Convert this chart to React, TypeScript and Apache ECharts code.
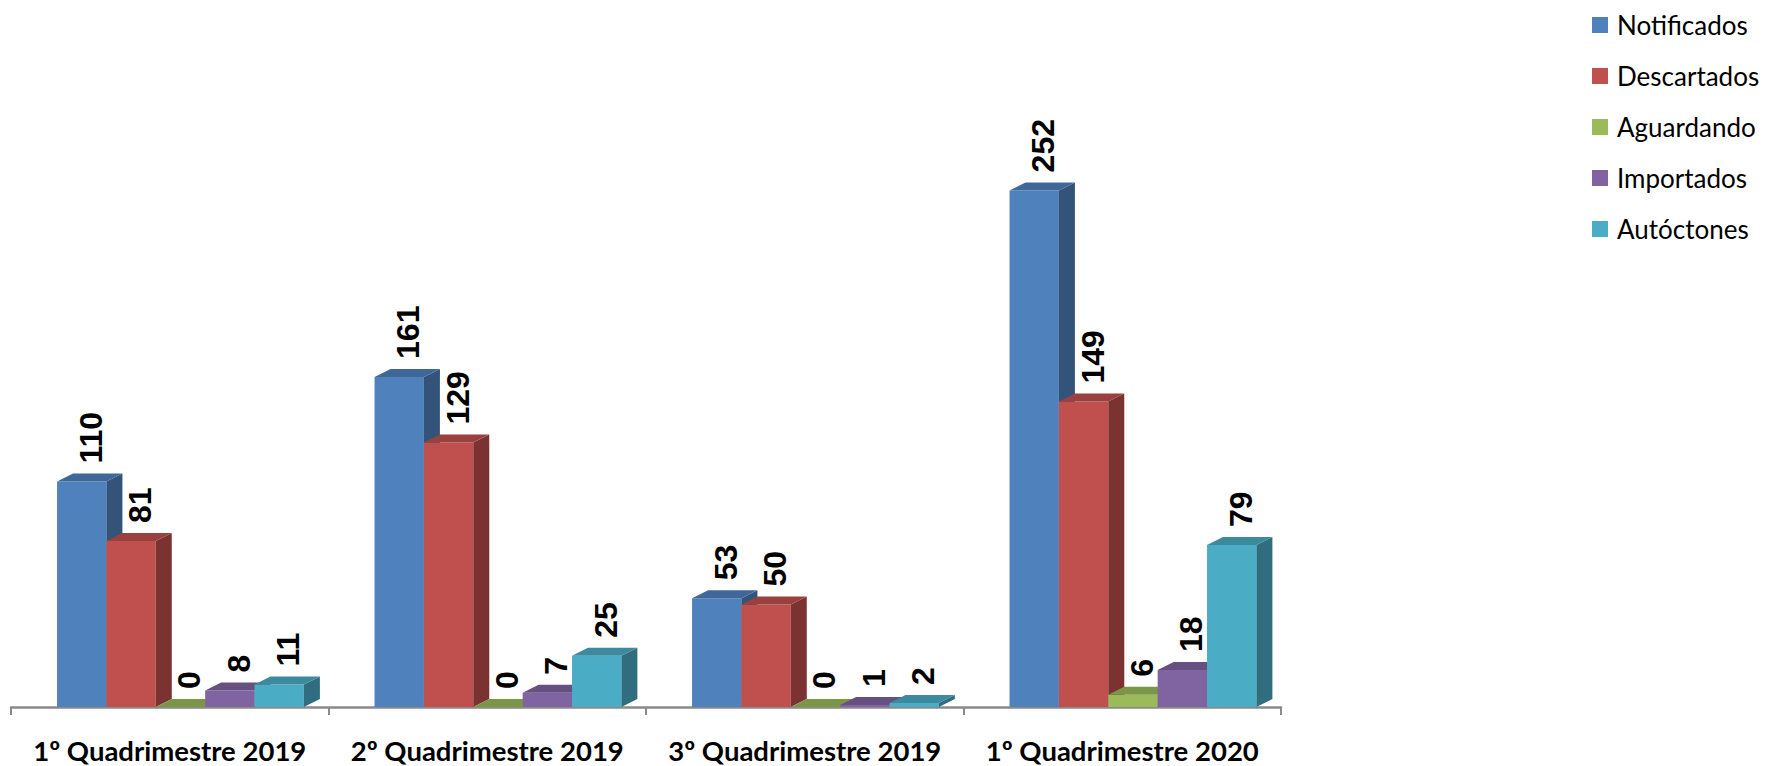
import React, { useEffect, useRef } from "react";
import * as echarts from "echarts";

const categories = [
  "1º Quadrimestre 2019",
  "2º Quadrimestre 2019",
  "3º Quadrimestre 2019",
  "1º Quadrimestre 2020",
];
const seriesNames = ["Notificados", "Descartados", "Aguardando", "Importados", "Autóctones"];
const notificados = [110, 161, 53, 252];
const descartados = [81, 129, 50, 149];
const aguardando = [0, 0, 0, 6];
const importados = [8, 7, 1, 18];
const autoctones = [11, 25, 2, 79];
const seriesValues = [notificados, descartados, aguardando, importados, autoctones];
const colors = ["#4F81BD", "#C0504D", "#9BBB59", "#8064A2", "#4BACC6"];

function shade(hex: string, f: number): string {
  const n = parseInt(hex.slice(1), 16);
  const r = Math.round(((n >> 16) & 255) * (1 - f));
  const g = Math.round(((n >> 8) & 255) * (1 - f));
  const b = Math.round((n & 255) * (1 - f));
  return `rgb(${r},${g},${b})`;
}

const DX = 16;
const DY = 8;

export default function App() {
  const ref = useRef<HTMLDivElement>(null);
  useEffect(() => {
    if (!ref.current) return;
    const chart = echarts.init(ref.current, undefined, { renderer: "svg" });
    const series = seriesValues.map((vals, si) => ({
      type: "custom",
      name: seriesNames[si],
      itemStyle: { color: colors[si] },
      data: vals.map((v, ci) => [ci, v]),
      encode: { x: 0, y: 1 },
      z: 2,
      renderItem: (params: any, api: any) => {
        const ci = api.value(0);
        const v = api.value(1);
        const base = api.coord([ci, 0]);
        const top = api.coord([ci, v]);
        const band = api.size([1, 0])[0];
        const w = band * 0.1555;
        const x0 = base[0] - band * 0.355 + si * w;
        const yb = base[1];
        const yt = top[1];
        const c = colors[si];
        return {
          type: "group",
          children: [
            {
              type: "rect",
              shape: { x: x0, y: yt, width: w, height: yb - yt },
              style: { fill: c },
            },
            {
              type: "polygon",
              shape: {
                points: [
                  [x0 + w, yt],
                  [x0 + w + DX, yt - DY],
                  [x0 + w + DX, yb - DY],
                  [x0 + w, yb],
                ],
              },
              style: { fill: shade(c, 0.36) },
            },
            {
              type: "polygon",
              shape: {
                points: [
                  [x0, yt],
                  [x0 + DX, yt - DY],
                  [x0 + w + DX, yt - DY],
                  [x0 + w, yt],
                ],
              },
              style: { fill: shade(c, 0.2) },
            },
            {
              type: "text",
              x: x0 + w / 2 + 9,
              y: yt - 18,
              rotation: Math.PI / 2,
              style: {
                text: String(v),
                fontFamily: "Liberation Sans",
                fontWeight: "bold",
                fontSize: 32,
                fill: "#000",
                align: "left",
                verticalAlign: "middle",
              },
            },
          ],
        };
      },
    }));
    chart.setOption({
      animation: false,
      backgroundColor: "#ffffff",
      grid: { left: 11, right: 486, top: 92, bottom: 59 },
      legend: {
        orient: "vertical",
        left: 1592,
        top: 12,
        padding: 0,
        itemWidth: 16,
        itemHeight: 16,
        itemGap: 25,
        icon: "rect",
        data: seriesNames,
        textStyle: { fontFamily: "Lato", fontSize: 26, color: "#000", lineHeight: 26, padding: [0, 0, 0, 4] },
      },
      xAxis: {
        type: "category",
        data: categories,
        offset: 8,
        axisLine: { lineStyle: { color: "#8a8a8a", width: 2.5 } },
        axisTick: { show: true, length: 8, interval: 0, lineStyle: { color: "#8a8a8a", width: 2 } },
        axisLabel: {
          interval: 0,
          margin: 21,
          fontFamily: "Lato",
          fontWeight: "bold",
          fontSize: 27.5,
          color: "#000",
        },
      },
      yAxis: { type: "value", min: 0, max: 300, show: false, splitLine: { show: false } },
      series,
    });
    return () => chart.dispose();
  }, []);
  return (
    <div
      ref={ref}
      style={{ position: "fixed", left: 0, top: 0, width: 1767, height: 766, background: "#fff" }}
    />
  );
}
